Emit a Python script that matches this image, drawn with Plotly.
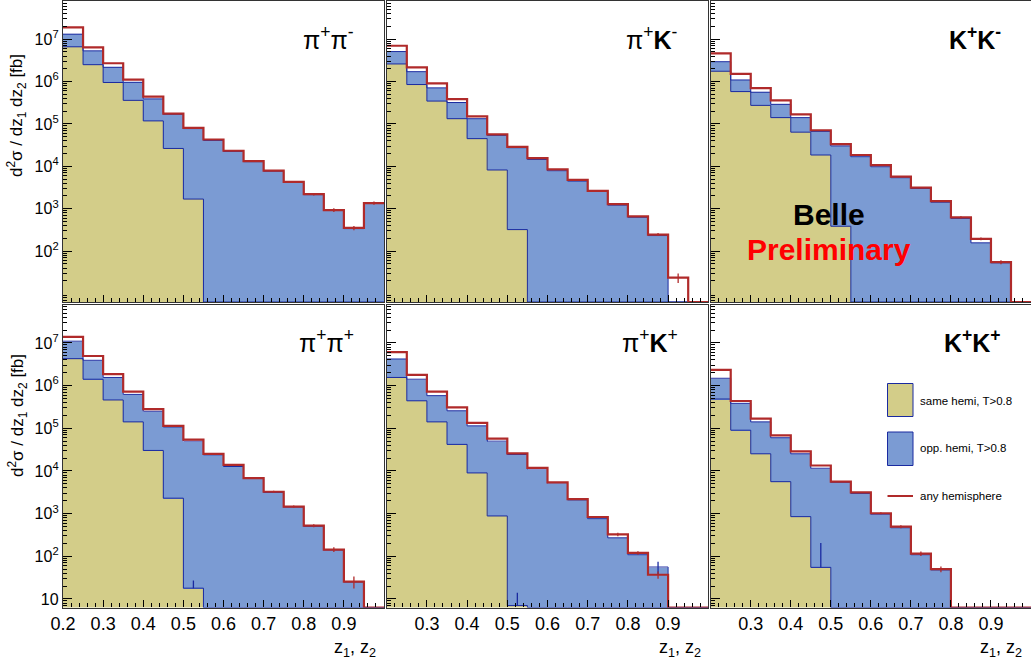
import plotly.graph_objects as go

W, H = 1031, 664
FONT = "Liberation Sans, Arial, Helvetica, sans-serif"

# ---------------- data ----------------
z_edges = [0.20, 0.25, 0.30, 0.35, 0.40, 0.45, 0.50, 0.55, 0.60,
           0.65, 0.70, 0.75, 0.80, 0.85, 0.90, 0.95, 1.00]

# pi+ pi-
pipm_same = [6.6e6, 2.5e6, 9.5e5, 3.6e5, 1.18e5, 2.64e4, 1.69e3, 0, 0, 0, 0, 0, 0, 0, 0, 0]
pipm_opp  = [6.5e6, 2.8e6, 1.22e6, 6.0e5, 2.72e5, 1.43e5, 7.6e4, 4.1e4, 2.25e4, 1.29e4, 7.7e3, 4.2e3, 2.15e3, 910, 340, 1.33e3]
pipm_any  = [1.9e7, 6.4e6, 2.7e6, 1.11e6, 4.4e5, 1.75e5, 8.05e4, 4.3e4, 2.33e4, 1.33e4, 7.9e3, 4.3e3, 2.2e3, 930, 352, 1.36e3]
pipm_err  = [0, 0, 0, 0, 0, 0, 0, 0, 0, 0, 0, 0, 150, 90, 40, 120]

# pi+ K-
pikm_same = [2.6e6, 8.5e5, 3.46e5, 1.33e5, 4.5e4, 8.2e3, 322, 0, 0, 0, 0, 0, 0, 0, 0, 0]
pikm_opp  = [2.5e6, 8.6e5, 3.64e5, 1.87e5, 8.8e4, 4.58e4, 2.72e4, 1.46e4, 7.9e3, 4.5e3, 2.55e3, 1.22e3, 630, 233, 0, 0]
pikm_any  = [6.98e6, 2.17e6, 9.1e5, 3.85e5, 1.51e5, 5.7e4, 2.89e4, 1.57e4, 8.5e3, 4.8e3, 2.64e3, 1.29e3, 660, 246, 23.7, 0]
pikm_err  = [0, 0, 0, 0, 0, 0, 0, 0, 0, 0, 0, 0, 0, 20, 6, 0]

# K+ K-
kkm_same = [1.75e6, 5.8e5, 2.74e5, 1.41e5, 6.4e4, 1.85e4, 386, 0, 0, 0, 0, 0, 0, 0, 0, 0]
kkm_opp  = [1.19e6, 5.1e5, 2.86e5, 1.49e5, 7.7e4, 4.85e4, 3.0e4, 1.69e4, 9.8e3, 5.4e3, 3.0e3, 1.43e3, 593, 157, 53, 0]
kkm_any  = [4.6e6, 1.51e6, 6.98e5, 3.59e5, 1.69e5, 7.1e4, 3.34e4, 1.85e4, 1.07e4, 5.7e3, 3.16e3, 1.51e3, 627, 195, 55, 0]
kkm_err  = [0, 0, 0, 0, 0, 0, 0, 0, 0, 0, 0, 0, 40, 15, 6, 0]

# pi+ pi+
pipp_same = [4.27e6, 1.41e6, 4.6e5, 1.41e5, 3.02e4, 2.3e3, 17.9, 0, 0, 0, 0, 0, 0, 0, 0, 0]
pipp_opp  = [6.7e6, 2.5e6, 1.09e6, 4.8e5, 2.2e5, 1.05e5, 5.0e4, 2.39e4, 1.27e4, 6.7e3, 3.13e3, 1.41e3, 502, 139, 25, 0]
pipp_any  = [1.39e7, 4.93e6, 1.85e6, 7.2e5, 2.81e5, 1.14e5, 5.4e4, 2.52e4, 1.39e4, 6.8e3, 3.25e3, 1.46e3, 521, 144, 25.6, 0]
pipp_err  = [0, 0, 0, 0, 0, 0, 0, 0, 0, 0, 200, 80, 40, 18, 8, 0]

# pi+ K+
pikp_same = [1.55e6, 4.4e5, 1.41e5, 4.19e4, 8.98e3, 881, 7, 0, 0, 0, 0, 0, 0, 0, 0, 0]
pikp_opp  = [2.65e6, 9.7e5, 4.4e5, 2.15e5, 1.05e5, 4.9e4, 2.43e4, 1.11e4, 5.2e3, 2.1e3, 762, 271, 109, 56, 0, 0]
pikp_any  = [6.1e6, 1.79e6, 7.2e5, 3.08e5, 1.34e5, 5.7e4, 2.57e4, 1.18e4, 5.4e3, 2.18e3, 834, 325, 120, 36.9, 0, 0]
pikp_err  = [0, 0, 0, 0, 0, 0, 0, 0, 0, 0, 0, 30, 12, 7, 0, 0]

# K+ K+
kkp_same = [4.84e5, 9.0e4, 2.52e4, 5.6e3, 849, 55, 0, 0, 0, 0, 0, 0, 0, 0, 0, 0]
kkp_opp  = [1.0e6, 2.93e5, 1.16e5, 5.44e4, 2.44e4, 1.15e4, 5.4e3, 2.97e3, 964, 467, 109, 48, 0, 0, 0, 0]
kkp_any  = [2.34e6, 4.35e5, 1.69e5, 6.8e4, 2.86e4, 1.34e4, 5.6e3, 3.13e3, 1.02e3, 493, 116, 50, 0, 0, 0, 0]
kkp_err  = [0, 0, 0, 0, 0, 0, 0, 0, 60, 40, 14, 8, 0, 0, 0, 0]

# upward error bars visible on the same-hemisphere / stacked histograms
pipp_same_err = [0, 0, 0, 0, 0, 0, 9, 0, 0, 0, 0, 0, 0, 0, 0, 0]
pikp_same_err = [0, 0, 0, 0, 0, 0, 7, 0, 0, 0, 0, 0, 0, 0, 0, 0]
kkp_same_err  = [0, 0, 0, 0, 0, 150, 0, 0, 0, 0, 0, 0, 0, 0, 0, 0]
pikp_opp_err  = [0, 0, 0, 0, 0, 0, 0, 0, 0, 0, 0, 0, 0, 18, 0, 0]

titles = ["π<sup>+</sup>π<sup>-</sup>", "π<sup>+</sup><b>K</b><sup>-</sup>", "<b>K<sup>+</sup>K<sup>-</sup></b>",
          "π<sup>+</sup>π<sup>+</sup>", "π<sup>+</sup><b>K</b><sup>+</sup>", "<b>K<sup>+</sup>K<sup>+</sup></b>"]

panels = [
    (pipm_same, pipm_opp, pipm_any, pipm_err, None, None),
    (pikm_same, pikm_opp, pikm_any, pikm_err, None, None),
    (kkm_same, kkm_opp, kkm_any, kkm_err, None, None),
    (pipp_same, pipp_opp, pipp_any, pipp_err, pipp_same_err, None),
    (pikp_same, pikp_opp, pikp_any, pikp_err, pikp_same_err, pikp_opp_err),
    (kkp_same, kkp_opp, kkp_any, kkp_err, kkp_same_err, None),
]

x_major = [0.2, 0.3, 0.4, 0.5, 0.6, 0.7, 0.8, 0.9]
x_major_text = ["0.2", "0.3", "0.4", "0.5", "0.6", "0.7", "0.8", "0.9"]
x_minor = [round(0.2 + 0.02 * i, 2) for i in range(41)]
y_major_top = [1e2, 1e3, 1e4, 1e5, 1e6, 1e7]
y_text_top = ["10<sup>2</sup>", "10<sup>3</sup>", "10<sup>4</sup>", "10<sup>5</sup>", "10<sup>6</sup>", "10<sup>7</sup>"]
y_major_bot = [1e1, 1e2, 1e3, 1e4, 1e5, 1e6, 1e7]
y_text_bot = ["10"] + y_text_top
y_minor = [m * 10 ** k for k in range(0, 8) for m in range(2, 10)]

# ---------------- styles / layout geometry ----------------
Y_RANGE = [0.8, 7.9]
Y_FLOOR = 10 ** Y_RANGE[0]
C_YEL = "#D3CD89"
C_BLU = "#7B9BD3"
C_NAVY = "#1A2AA0"
C_RED = "#B02A2A"

col_px = [(63, 384), (386.7, 708.3), (710.7, 1031)]
row_px = [(1, 302), (304.5, 607.5)]


def px(x):
    return x / W


def py(y):
    return 1 - y / H


fig = go.Figure()
centers = [(a + b) / 2 for a, b in zip(z_edges[:-1], z_edges[1:])]


def floor0(v):
    return [val if val > 0 else Y_FLOOR for val in v]


for i, (same, opp, anyh, err, serr, oerr) in enumerate(panels):
    r, c = divmod(i, 3)
    n = i + 1
    xa = "x" if n == 1 else f"x{n}"
    ya = "y" if n == 1 else f"y{n}"
    stack_top = [s + o for s, o in zip(same, opp)]
    # filled histograms (stacked)
    fig.add_trace(go.Bar(x=centers, y=same, width=0.05, marker=dict(color=C_YEL, line=dict(width=0)),
                         xaxis=xa, yaxis=ya, showlegend=False, offsetgroup=str(n)))
    fig.add_trace(go.Bar(x=centers, y=opp, width=0.05, marker=dict(color=C_BLU, line=dict(width=0)),
                         xaxis=xa, yaxis=ya, showlegend=False, offsetgroup=str(n)))
    # outlines (steps)
    fig.add_trace(go.Scatter(x=z_edges, y=floor0(same) + [floor0(same)[-1]], mode="lines",
                             line=dict(shape="hv", color=C_NAVY, width=1),
                             xaxis=xa, yaxis=ya, showlegend=False))
    fig.add_trace(go.Scatter(x=z_edges, y=floor0(stack_top) + [floor0(stack_top)[-1]], mode="lines",
                             line=dict(shape="hv", color=C_NAVY, width=1),
                             xaxis=xa, yaxis=ya, showlegend=False))
    fig.add_trace(go.Scatter(x=z_edges, y=floor0(anyh) + [floor0(anyh)[-1]], mode="lines",
                             line=dict(shape="hv", color=C_RED, width=2.2),
                             xaxis=xa, yaxis=ya, showlegend=False))
    # error bars
    for vals, errs, col, sym in ((same, serr, C_NAVY, False), (stack_top, oerr, C_NAVY, True),
                                 (anyh, err, C_RED, True)):
        if errs is None:
            continue
        xs = [cx for cx, e in zip(centers, errs) if e > 0]
        ys = [v for v, e in zip(vals, errs) if e > 0]
        es = [e for e in errs if e > 0]
        ebar = dict(type="data", array=es, color=col, thickness=1.3, width=0)
        if not sym:
            ebar.update(symmetric=False, arrayminus=[0] * len(es))
        fig.add_trace(go.Scatter(x=xs, y=ys, mode="markers", marker=dict(size=0.1, color=col),
                                 error_y=ebar, xaxis=xa, yaxis=ya, showlegend=False))

    x0, x1 = col_px[c]
    y0, y1 = row_px[r]
    xkey = "xaxis" if n == 1 else f"xaxis{n}"
    ykey = "yaxis" if n == 1 else f"yaxis{n}"
    xdict = dict(
        domain=[px(x0), px(x1)], anchor=ya, range=[0.2, 1.0],
        tickmode="array", tickvals=x_major,
        ticks="inside", ticklen=7, tickwidth=1, tickcolor="black",
        minor=dict(tickmode="array", tickvals=x_minor, ticks="inside", ticklen=4, tickcolor="black", tickwidth=1),
        showticklabels=(r == 1), tickfont=dict(family=FONT, size=18, color="black"),
        showgrid=False, zeroline=False, showline=True, linecolor="#333", linewidth=1.3, mirror=True,
    )
    if r == 1:
        if c > 0:
            xdict.update(tickvals=x_major[1:], ticktext=x_major_text[1:])
        else:
            xdict.update(ticktext=x_major_text)
    fig.layout[xkey] = xdict
    yv, yt = (y_major_top, y_text_top) if r == 0 else (y_major_bot, y_text_bot)
    ydict = dict(
        domain=[py(y1), py(y0)], anchor=xa, type="log", range=Y_RANGE,
        tickmode="array", tickvals=yv,
        ticks="inside", ticklen=9, tickwidth=1, tickcolor="black",
        minor=dict(tickmode="array", tickvals=y_minor, ticks="inside", ticklen=4, tickcolor="black", tickwidth=1),
        showticklabels=(c == 0), tickfont=dict(family=FONT, size=16, color="black"),
        showgrid=False, zeroline=False, showline=True, linecolor="#333", linewidth=1.3, mirror=True,
    )
    if c == 0:
        ydict.update(ticktext=yt)
    fig.layout[ykey] = ydict

annotations = []
# panel titles
for i, t in enumerate(titles):
    r, c = divmod(i, 3)
    x1 = col_px[c][1]
    y0 = row_px[r][0]
    annotations.append(dict(x=px(x1 - 28), y=py(y0 + 37), xref="paper", yref="paper", text=t,
                            showarrow=False, xanchor="right", yanchor="middle",
                            font=dict(family=FONT, size=25, color="black")))
# y titles
for yc in (116, 416):
    annotations.append(dict(x=px(17), y=py(yc), xref="paper", yref="paper",
                            text="d<sup>2</sup>σ / dz<sub>1</sub> dz<sub>2</sub> [fb]", textangle=-90,
                            showarrow=False, xanchor="center", yanchor="middle",
                            font=dict(family=FONT, size=17, color="black")))
# x titles
for xr in (378, 703, 1024):
    annotations.append(dict(x=px(xr), y=py(648), xref="paper", yref="paper",
                            text="z<sub>1</sub>, z<sub>2</sub>", showarrow=False,
                            xanchor="right", yanchor="middle", font=dict(family=FONT, size=18, color="black")))
# Belle Preliminary
annotations.append(dict(x=px(829), y=py(214), xref="paper", yref="paper", text="<b>Belle</b>",
                        showarrow=False, xanchor="center", yanchor="middle",
                        font=dict(family=FONT, size=30, color="black")))
annotations.append(dict(x=px(829), y=py(249), xref="paper", yref="paper", text="<b>Preliminary</b>",
                        showarrow=False, xanchor="center", yanchor="middle",
                        font=dict(family=FONT, size=30, color="#FF0000")))

# legend (drawn in the K+K+ pad)
legend_items = ["same hemi, T>0.8", "opp. hemi, T>0.8", "any hemisphere"]
shapes = [
    dict(type="rect", xref="paper", yref="paper", x0=px(887.5), x1=px(913), y0=py(416.5), y1=py(383.5),
         fillcolor=C_YEL, line=dict(color=C_NAVY, width=1)),
    dict(type="rect", xref="paper", yref="paper", x0=px(887.5), x1=px(913), y0=py(465.5), y1=py(432),
         fillcolor=C_BLU, line=dict(color=C_NAVY, width=1)),
    dict(type="line", xref="paper", yref="paper", x0=px(887.5), x1=px(913), y0=py(496), y1=py(496),
         line=dict(color=C_RED, width=2)),
]
for lbl, yc in zip(legend_items, (401, 448, 496)):
    annotations.append(dict(x=px(918), y=py(yc), xref="paper", yref="paper", text=lbl, showarrow=False,
                            xanchor="left", yanchor="middle", font=dict(family=FONT, size=11.5, color="black")))

fig.update_layout(
    width=W, height=H, margin=dict(l=0, r=0, t=0, b=0, autoexpand=False),
    paper_bgcolor="white", plot_bgcolor="white",
    barmode="stack", bargap=0, showlegend=False,
    annotations=annotations, shapes=shapes,
)

fig.write_html("out.html")
